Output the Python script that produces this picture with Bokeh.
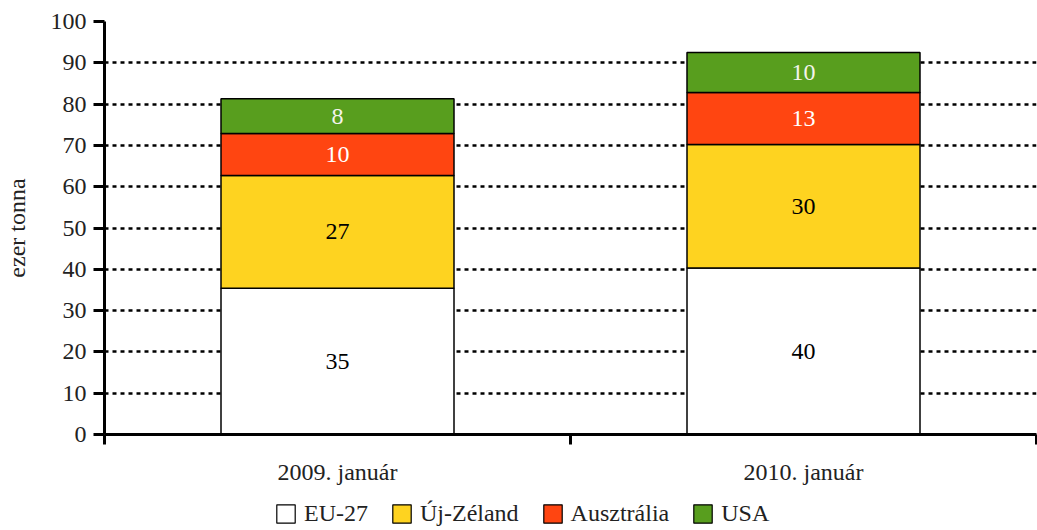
from bokeh.plotting import figure
from bokeh.layouts import column
from bokeh.models import (ColumnDataSource, Range1d, FixedTicker, Legend, LegendItem)
from bokeh.core.properties import value
from bokeh.embed import file_html
from bokeh.resources import INLINE

# ---- data ----
categories = ["2009. január", "2010. január"]
series = ["EU-27", "Új-Zéland", "Ausztrália", "USA"]
eu27 = [35.4, 40.3]
uj_zeland = [27.3, 29.9]
ausztralia = [10.2, 12.6]
usa = [8.4, 9.7]
y_ticks = [0, 10, 20, 30, 40, 50, 60, 70, 80, 90, 100]

colors = ["#FFFFFF", "#FED320", "#FF4511", "#589E1E"]
label_colors = ["#000000", "#000000", "#FFFFFF", "#F4F4EC"]
FONT = "Liberation Serif"

values = [eu27, uj_zeland, ausztralia, usa]
xpos = [i + 0.5 for i in range(len(categories))]

data = dict(x=xpos)
for name, vals in zip(series, values):
    data[name] = vals
source = ColumnDataSource(data)

p = figure(width=1037, height=490, output_backend="svg", toolbar_location=None,
           x_range=Range1d(0, len(categories)), y_range=Range1d(0, 100),
           min_border_left=104, min_border_right=1, min_border_top=21,
           min_border_bottom=56)
p.outline_line_color = None
p.background_fill_color = "white"

renderers = p.vbar_stack(series, x="x", width=0.5, source=source,
                         fill_color=colors, line_color="black", line_width=1.5)

# value labels in the segments
bottoms = [0.0] * len(categories)
for vals, tc in zip(values, label_colors):
    ys = [b + v / 2 for b, v in zip(bottoms, vals)]
    txt = [f"{v:.0f}" for v in vals]
    p.text(x=xpos, y=ys, text=txt, text_align="center", text_baseline="middle",
           text_font=value(FONT), text_font_size="24px", text_color=tc)
    bottoms = [b + v for b, v in zip(bottoms, vals)]

# y axis
p.yaxis.ticker = FixedTicker(ticks=y_ticks)
p.yaxis.axis_line_width = 3
p.yaxis.axis_line_color = "black"
p.yaxis.major_tick_line_width = 3
p.yaxis.major_tick_line_color = "black"
p.yaxis.major_tick_out = 11
p.yaxis.major_tick_in = 0
p.yaxis.minor_tick_line_color = None
p.yaxis.major_label_standoff = 7
p.yaxis.major_label_text_font = FONT
p.yaxis.major_label_text_font_size = "24px"
p.yaxis.major_label_text_color = "#222222"
p.yaxis.axis_label = "ezer tonna"
p.yaxis.axis_label_text_font = FONT
p.yaxis.axis_label_text_font_size = "24px"
p.yaxis.axis_label_text_font_style = "normal"
p.yaxis.axis_label_text_color = "#222222"
p.yaxis.axis_label_standoff = 18

# x axis: labels at category centres, tick marks at category boundaries
p.xaxis.ticker = FixedTicker(ticks=xpos, minor_ticks=list(range(len(categories) + 1)))
p.xaxis.major_label_overrides = {x: c for x, c in zip(xpos, categories)}
p.xaxis.axis_line_width = 3
p.xaxis.axis_line_color = "black"
p.xaxis.major_tick_line_color = None
p.xaxis.major_tick_out = 10
p.xaxis.major_tick_in = 0
p.xaxis.minor_tick_line_color = "black"
p.xaxis.minor_tick_line_width = 3
p.xaxis.minor_tick_out = 10
p.xaxis.minor_tick_in = 0
p.xaxis.major_label_standoff = 14
p.xaxis.major_label_text_font = FONT
p.xaxis.major_label_text_font_size = "24px"
p.xaxis.major_label_text_color = "#222222"

# grid
p.xgrid.grid_line_color = None
p.ygrid.ticker = FixedTicker(ticks=y_ticks)
p.ygrid.grid_line_color = "black"
p.ygrid.grid_line_width = 2.5
p.ygrid.grid_line_dash = "4 4"

# ---- legend strip underneath (same series, drawn outside its visible range) ----
lg = figure(width=1037, height=40, output_backend="svg", toolbar_location=None,
            x_range=Range1d(50, 51), y_range=Range1d(500, 501), min_border=0,
            x_axis_location=None, y_axis_location=None)
lg.grid.visible = False
lg.outline_line_color = None
swatches = lg.vbar_stack(series, x="x", width=0.5, source=source,
                         fill_color=colors, line_color="black", line_width=1.2)
items = [LegendItem(label=s, renderers=[r]) for s, r in zip(series, swatches)]
legend = Legend(items=items, orientation="horizontal", location=(170, 3),
                glyph_width=23, glyph_height=23, label_standoff=7, spacing=22,
                padding=0, margin=0, border_line_color=None,
                background_fill_alpha=0,
                label_text_font=FONT, label_text_font_size="24px",
                label_text_color="#222222")
lg.add_layout(legend, "center")

layout = column(p, lg, spacing=0)
open("out.html", "w").write(file_html(layout, INLINE))
